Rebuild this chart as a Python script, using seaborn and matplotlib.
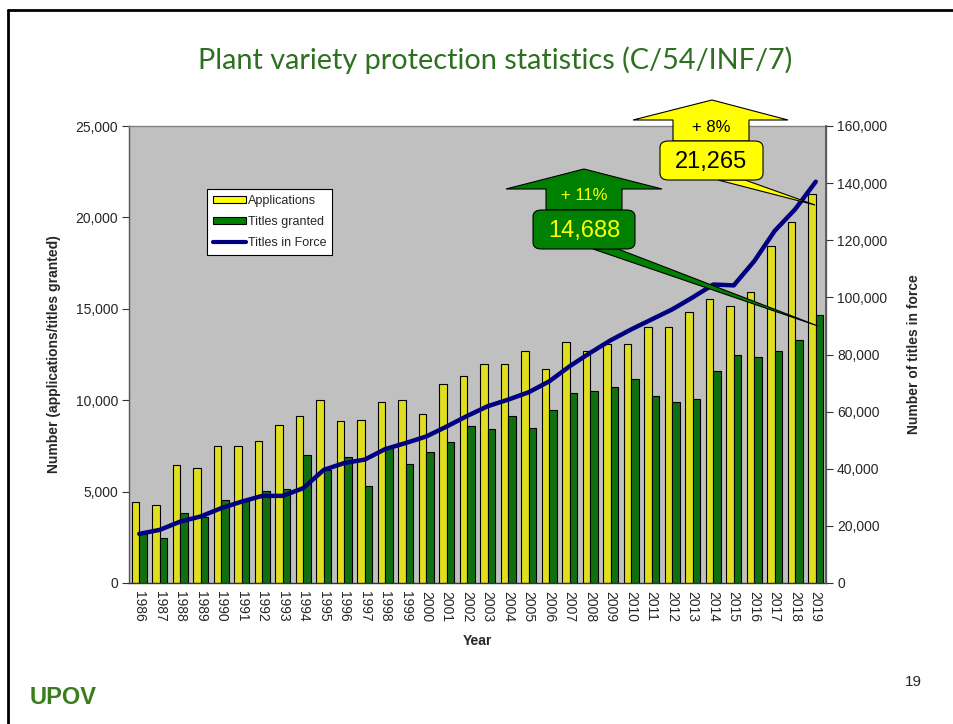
import numpy as np
import pandas as pd
import matplotlib
matplotlib.use("Agg")
import matplotlib.pyplot as plt
from matplotlib.patches import Polygon, FancyBboxPatch, Patch
from matplotlib.lines import Line2D
import seaborn as sns

years = [str(y) for y in range(1986, 2020)]
applications = [4440, 4250, 6450, 6300, 7470, 7470, 7760, 8640, 9160, 10020,
                8850, 8920, 9910, 10020, 9270, 10880, 11330, 12000, 11960, 12710,
                11700, 13200, 12700, 13060, 13100, 14010, 14010, 14850, 15550, 15130,
                15930, 18440, 19760, 21265]
titles_granted = [2700, 2460, 3830, 3600, 4560, 4470, 5050, 5150, 6980, 6200,
                  6870, 5290, 7400, 6500, 7180, 7710, 8590, 8440, 9120, 8500,
                  9470, 10370, 10480, 10730, 11150, 10220, 9910, 10070, 11590, 12450,
                  12350, 12710, 13310, 14688]
titles_in_force = [17200, 18600, 21500, 23300, 26200, 28500, 30500, 30500, 33200, 39600,
                   42000, 43200, 46900, 49000, 51300, 54800, 58500, 61900, 64200, 66800,
                   70600, 75900, 80600, 85000, 88800, 92300, 95800, 100000, 104500, 104200,
                   112700, 123300, 130900, 140500]
series_names = ["Applications", "Titles granted", "Titles in Force"]
left_ticks = [0, 5000, 10000, 15000, 20000, 25000]
right_ticks = [0, 20000, 40000, 60000, 80000, 100000, 120000, 140000, 160000]

YELLOW = "#ffff00"
GREEN = "#008000"
NAVY = "#000080"

sns.set_theme(style="white")
plt.rcParams["font.family"] = ["Liberation Sans", "DejaVu Sans"]

W, H = 954, 724
fig = plt.figure(figsize=(W / 100, H / 100), dpi=100)
fig.patch.set_facecolor("white")

def fx(px):
    return px / W

def fy(py):
    return 1 - py / H

ax = fig.add_axes([fx(129), fy(583), fx(826) - fx(129), fy(126) - fy(583)])
ax.set_facecolor("#c0c0c0")

df = pd.DataFrame({
    "Year": years * 2,
    "Value": applications + titles_granted,
    "Series": [series_names[0]] * len(years) + [series_names[1]] * len(years),
})
sns.barplot(data=df, x="Year", y="Value", hue="Series", palette=[YELLOW, GREEN],
            width=0.72, gap=0, edgecolor="black", linewidth=0.8, ax=ax,
            legend=False, zorder=2)
ax.set_xlim(-0.5, len(years) - 0.5)
ax.set_ylim(0, 25000)
ax.set_yticks(left_ticks)
ax.set_yticklabels([f"{v:,}" for v in left_ticks], fontsize=10)
ax.set_xticks(range(len(years)))
ax.set_xticklabels(years, rotation=-90, fontsize=10)
ax.set_xticks(np.arange(-0.5, len(years), 1.0), minor=True)
ax.tick_params(axis="x", which="major", length=0, pad=6)
ax.tick_params(axis="x", which="minor", length=5, width=0.8, color="#333333", direction="out")
ax.tick_params(axis="y", length=5, width=0.8, color="#333333", direction="out", left=True, pad=3)
ax.set_xlabel("Year", fontsize=10, fontweight="bold", labelpad=8)
ax.set_ylabel("Number (applications/titles granted)", fontsize=10, fontweight="bold", labelpad=10)
for s in ax.spines.values():
    s.set_color("#808080")
    s.set_linewidth(1)
ax.spines["bottom"].set_color("#333333")
ax.spines["left"].set_color("#555555")

ax2 = ax.twinx()
sns.lineplot(x=list(range(len(years))), y=titles_in_force, color=NAVY, linewidth=3.2,
             ax=ax2, legend=False)
ax2.set_ylim(0, 160000)
ax2.set_yticks(right_ticks)
ax2.set_yticklabels([f"{v:,}" for v in right_ticks], fontsize=10)
ax2.tick_params(axis="y", right=True, length=5, width=0.8, color="#333333", direction="out", pad=3)
ax2.set_ylabel("Number of titles in force", fontsize=10, fontweight="bold", labelpad=14)
ax2.grid(False)
for s in ax2.spines.values():
    s.set_visible(False)
ax2.spines["right"].set_visible(True)
ax2.spines["right"].set_color("#555555")

handles = [Patch(facecolor=YELLOW, edgecolor="black", linewidth=0.8),
           Patch(facecolor=GREEN, edgecolor="black", linewidth=0.8),
           Line2D([0], [0], color=NAVY, linewidth=3)]
leg = ax.legend(handles, series_names, loc="upper left", bbox_to_anchor=(0.112, 0.862),
                fontsize=9, frameon=True, fancybox=False, edgecolor="black",
                framealpha=1, borderpad=0.5, handlelength=2.6, handleheight=0.5,
                handletextpad=0.15, labelspacing=0.7, borderaxespad=0)
leg.get_frame().set_linewidth(0.8)
leg.set_zorder(5)

# title and page decorations
fig.text(fx(495), fy(60), "Plant variety protection statistics (C/54/INF/7)",
         ha="center", va="center", fontsize=20.8, color="#2e7020", family=["Lato", "DejaVu Sans"])
fig.text(fx(913), fy(682), "19", ha="center", va="center", fontsize=11)
fig.text(fx(30), fy(698), "UPOV", ha="left", va="center", fontsize=17, fontweight="bold",
         color="#3a7d1e", family=["Liberation Sans", "DejaVu Sans"])
fig.add_artist(Line2D([fx(8), fx(8)], [fy(10), 0], color="black", linewidth=2, transform=fig.transFigure))
fig.add_artist(Line2D([fx(8), 1], [fy(10), fy(10)], color="black", linewidth=2, transform=fig.transFigure))

def poly(pts, fc, ec="black", lw=0.8, z=6):
    fig.add_artist(Polygon([(fx(x), fy(y)) for x, y in pts], closed=True, facecolor=fc,
                           edgecolor=ec, linewidth=lw, transform=fig.transFigure, zorder=z))

def rbox(x0, y0, x1, y1, fc, z=7):
    fig.add_artist(FancyBboxPatch((fx(x0), fy(y1)), fx(x1) - fx(x0), fy(y0) - fy(y1),
                                  boxstyle="round,pad=0,rounding_size=0.009",
                                  facecolor=fc, edgecolor="black", linewidth=0.8,
                                  transform=fig.transFigure, zorder=z))

# yellow callout (applications 2019)
poly([(718, 180), (745, 180), (815, 205)], YELLOW, z=6)
poly([(712, 100), (788, 120), (749, 120), (749, 141), (673, 141), (673, 120), (633, 120)], YELLOW, z=6)
rbox(660, 141, 763, 180, YELLOW)
fig.text(fx(711), fy(127), "+ 8%", ha="center", va="center", fontsize=12, color="black", zorder=8)
fig.text(fx(711), fy(162), "21,265", ha="center", va="center", fontsize=17, color="black", zorder=8)

# green callout (titles granted 2019)
poly([(593, 249), (618, 249), (818, 326)], GREEN, z=6)
poly([(584, 169), (662, 189), (622, 189), (622, 210), (546, 210), (546, 189), (506, 189)], GREEN, z=6)
rbox(533, 210, 635, 249, GREEN)
fig.text(fx(584), fy(195), "+ 11%", ha="center", va="center", fontsize=12, color=YELLOW, zorder=8)
fig.text(fx(584), fy(231), "14,688", ha="center", va="center", fontsize=17, color=YELLOW, zorder=8)

fig.savefig("out.png", dpi=100)
